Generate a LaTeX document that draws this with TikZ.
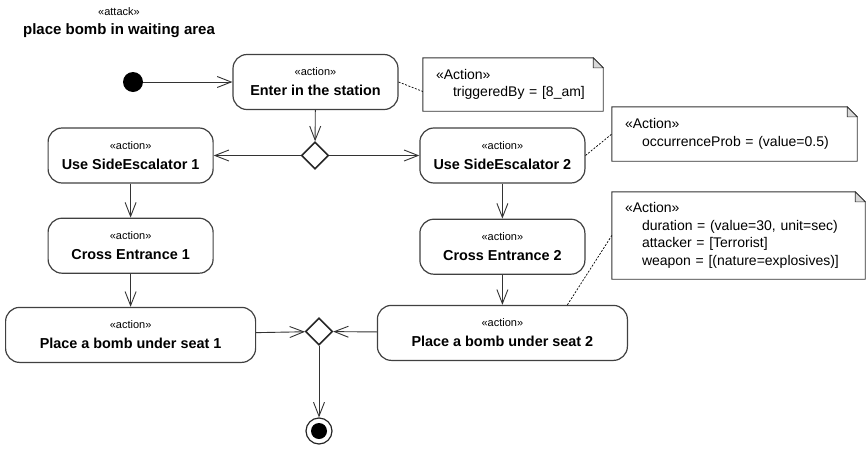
\documentclass[tikz,border=0pt]{standalone}
\usepackage{fontspec}
\setmainfont{Liberation Sans}
\usetikzlibrary{arrows.meta,shapes.geometric,positioning}

\newcommand{\stereo}[1]{{\fontsize{11}{13}\selectfont\mdseries «#1»}}

\begin{document}
\begin{tikzpicture}[x=1pt,y=-1pt,>={Straight Barb[length=14pt,width=11pt]},
  action/.style={draw=black!75,line width=1.2pt,rounded corners=14pt,minimum width=165pt,minimum height=55pt,inner sep=0pt,align=center,font=\fontsize{14.4}{20}\selectfont\bfseries},
  wide/.style={action,minimum width=250pt},
  decision/.style={draw=black!85,diamond,line width=1.6pt,minimum size=27pt,inner sep=0pt},
  note/.style={inner xsep=13pt,inner ysep=0pt,align=left,font=\fontsize{14}{17.5}\selectfont},
  flow/.style={->,line width=0.9pt,draw=black!80},
  link/.style={dash pattern=on 2pt off 1.5pt,line width=0.7pt}]
  \useasboundingbox (0,0) rectangle (868,448);

  % title
  \node[anchor=base] (kind) at (119,15) {\stereo{attack}};
  \node[anchor=base,font=\fontsize{15}{18}\selectfont\bfseries] (title) at (119,34) {place bomb in waiting area};

  % actions
  \node[circle,fill=black,minimum size=20pt,inner sep=0pt] (start) at (133,82) {};
  \node[action] (enter) at (315.5,82) {\stereo{action}\\Enter in the station};
  \node[decision] (split) at (315,155.5) {};
  \node[action,left=87pt of split] (se1) {\stereo{action}\\Use SideEscalator 1};
  \node[action,right=90pt of split] (se2) {\stereo{action}\\Use SideEscalator 2};
  \node[action,below=34pt of se1] (ce1) {\stereo{action}\\Cross Entrance 1};
  \node[action,below=35pt of se2] (ce2) {\stereo{action}\\Cross Entrance 2};
  \node[wide,below=33pt of ce1] (p1) {\stereo{action}\\Place a bomb under seat 1};
  \node[wide,below=30pt of ce2] (p2) {\stereo{action}\\Place a bomb under seat 2};
  \node[decision] (merge) at (319,331.5) {};
  \node[circle,draw=black!85,line width=1.2pt,minimum size=26pt,inner sep=0pt,
    path picture={\fill (path picture bounding box.center) circle (8pt);}] (end) at (319,431) {};

  % notes
  \node[note,text width=154pt,minimum height=53pt] (n1) at (513,84.5) {«Action»\\\hspace*{17pt}triggeredBy = [8\_am]};
  \node[note,text width=219pt,minimum height=54pt] (n2) at (734.5,134) {«Action»\\\hspace*{17pt}occurrenceProb = (value=0.5)};
  \node[note,text width=227pt,minimum height=87pt] (n3) at (738.5,235.5) {«Action»\\\hspace*{17pt}duration = (value=30, unit=sec)\\\hspace*{17pt}attacker = [Terrorist]\\\hspace*{17pt}weapon = [(nature=explosives)]};
  \foreach \n in {n1,n2,n3}{
    \draw[line width=0.9pt,draw=black!80] (\n.north west) -- ([xshift=-10pt]\n.north east) -- ([yshift=-10pt]\n.north east) -- (\n.south east) -- (\n.south west) -- cycle;
    \filldraw[line width=0.6pt,draw=black!80,fill=black!15] ([xshift=-10pt]\n.north east) -- ([xshift=-10pt,yshift=-10pt]\n.north east) -- ([yshift=-10pt]\n.north east) -- cycle;
  }

  % flows
  \draw[flow] (start) -- (enter);
  \draw[flow] (enter) -- (split);
  \draw[flow] (split) -- (se1);
  \draw[flow] (split) -- (se2);
  \draw[flow] (se1) -- (ce1);
  \draw[flow] (se2) -- (ce2);
  \draw[flow] (ce1) -- (p1);
  \draw[flow] (ce2) -- (p2);
  \draw[flow] (p1) -- (merge);
  \draw[flow] (p2) -- (merge);
  \draw[flow] (merge) -- (end);

  % note links
  \draw[link] (enter.east) -- ([yshift=-7pt]n1.west);
  \draw[link] (se2.east) -- (n2.west);
  \draw[link] ([xshift=65pt]p2.north) -- (n3.west);
\end{tikzpicture}
\end{document}
